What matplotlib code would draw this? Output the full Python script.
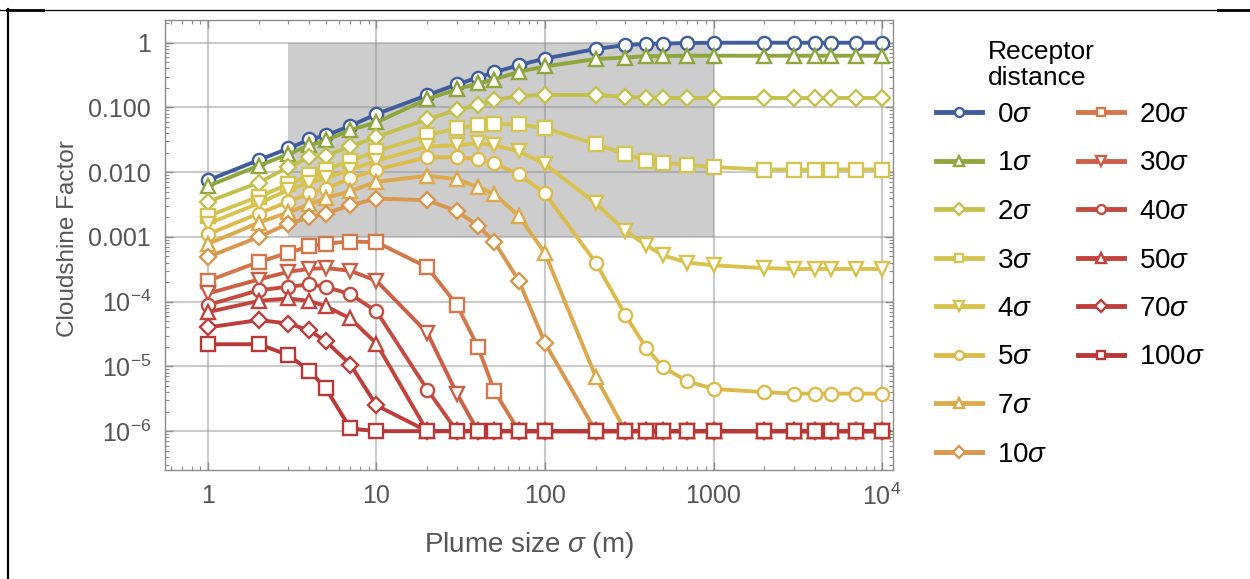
import matplotlib
matplotlib.use("Agg")
import matplotlib.pyplot as plt
from matplotlib.lines import Line2D
from matplotlib.patches import Rectangle
from matplotlib.ticker import FixedLocator, LogLocator, NullFormatter, FixedFormatter

plt.rcParams['font.family'] = ['Liberation Sans', 'DejaVu Sans']
plt.rcParams['mathtext.fontset'] = 'custom'
plt.rcParams['mathtext.rm'] = 'Liberation Sans'
plt.rcParams['mathtext.it'] = 'Liberation Sans:italic'

# ---------------- data ----------------
plume_size = [1, 2, 3, 4, 5, 7, 10, 20, 30, 40, 50, 70, 100, 200, 300, 400, 500, 700,
              1000, 2000, 3000, 4000, 5000, 7000, 10000]

cf_0 = [0.0075, 0.0154, 0.0233, 0.032, 0.037, 0.052, 0.079, 0.155, 0.227, 0.29, 0.35, 0.45,
        0.57, 0.80, 0.92, 0.96, 0.97, 0.99, 1.0, 1.0, 1.0, 1.0, 1.0, 1.0, 1.0]
cf_1 = [0.0061, 0.0126, 0.019, 0.026, 0.031, 0.045, 0.059, 0.135, 0.19, 0.236, 0.27, 0.356,
        0.43, 0.56, 0.59, 0.62, 0.62, 0.63, 0.63, 0.63, 0.63, 0.63, 0.63, 0.63, 0.63]
cf_2 = [0.0035, 0.0069, 0.012, 0.017, 0.018, 0.025, 0.035, 0.066, 0.091, 0.109, 0.13, 0.150,
        0.156, 0.156, 0.146, 0.142, 0.14, 0.14, 0.14, 0.14, 0.14, 0.14, 0.14, 0.14, 0.14]
cf_3 = [0.0021, 0.0042, 0.0065, 0.009, 0.011, 0.015, 0.021, 0.037, 0.048, 0.053, 0.055, 0.055,
        0.048, 0.027, 0.019, 0.015, 0.014, 0.013, 0.012, 0.011, 0.011, 0.011, 0.011, 0.011, 0.011]
cf_4 = [0.0016, 0.0033, 0.0053, 0.0069, 0.008, 0.011, 0.015, 0.025, 0.026, 0.028, 0.026, 0.021,
        0.0133, 0.0033, 0.00124, 7.4e-4, 5.2e-4, 4.0e-4, 3.65e-4, 3.3e-4, 3.2e-4, 3.2e-4,
        3.2e-4, 3.2e-4, 3.2e-4]
cf_5 = [0.0011, 0.0023, 0.0035, 0.0047, 0.0056, 0.008, 0.011, 0.017, 0.017, 0.016, 0.0137,
        0.0093, 0.0047, 4.0e-4, 6.2e-5, 1.9e-5, 9.8e-6, 5.9e-6, 4.5e-6, 4.0e-6, 3.8e-6,
        3.8e-6, 3.8e-6, 3.8e-6, 3.8e-6]
cf_7 = [7.8e-4, 0.00166, 0.0024, 0.0032, 0.004, 0.0051, 0.0071, 0.0088, 0.0078, 0.0059,
        0.0046, 0.0021, 5.6e-4, 6.9e-6, 1e-6, 1e-6, 1e-6, 1e-6, 1e-6, 1e-6, 1e-6, 1e-6,
        1e-6, 1e-6, 1e-6]
cf_10 = [4.9e-4, 0.001, 0.0016, 0.002, 0.0023, 0.0031, 0.0039, 0.0037, 0.0025, 0.0015,
         8.4e-4, 2.1e-4, 2.3e-5, 1e-6, 1e-6, 1e-6, 1e-6, 1e-6, 1e-6, 1e-6, 1e-6, 1e-6,
         1e-6, 1e-6, 1e-6]
cf_20 = [2.1e-4, 4.1e-4, 5.7e-4, 7.2e-4, 7.9e-4, 8.5e-4, 8.3e-4, 3.4e-4, 8.9e-5, 2.0e-5,
         4.2e-6, 1e-6, 1e-6, 1e-6, 1e-6, 1e-6, 1e-6, 1e-6, 1e-6, 1e-6, 1e-6, 1e-6, 1e-6,
         1e-6, 1e-6]
cf_30 = [1.34e-4, 2.2e-4, 2.9e-4, 3.2e-4, 3.3e-4, 3.0e-4, 2.1e-4, 3.3e-5, 3.8e-6, 1e-6,
         1e-6, 1e-6, 1e-6, 1e-6, 1e-6, 1e-6, 1e-6, 1e-6, 1e-6, 1e-6, 1e-6, 1e-6, 1e-6,
         1e-6, 1e-6]
cf_40 = [8.9e-5, 1.5e-4, 1.7e-4, 1.85e-4, 1.7e-4, 1.3e-4, 7.1e-5, 4.4e-6, 1e-6, 1e-6,
         1e-6, 1e-6, 1e-6, 1e-6, 1e-6, 1e-6, 1e-6, 1e-6, 1e-6, 1e-6, 1e-6, 1e-6, 1e-6,
         1e-6, 1e-6]
cf_50 = [6.9e-5, 1.03e-4, 1.12e-4, 1.03e-4, 8.5e-5, 5.5e-5, 2.25e-5, 1e-6, 1e-6, 1e-6,
         1e-6, 1e-6, 1e-6, 1e-6, 1e-6, 1e-6, 1e-6, 1e-6, 1e-6, 1e-6, 1e-6, 1e-6, 1e-6,
         1e-6, 1e-6]
cf_70 = [4.0e-5, 5.2e-5, 4.6e-5, 3.6e-5, 2.45e-5, 1.07e-5, 2.5e-6, 1e-6, 1e-6, 1e-6,
         1e-6, 1e-6, 1e-6, 1e-6, 1e-6, 1e-6, 1e-6, 1e-6, 1e-6, 1e-6, 1e-6, 1e-6, 1e-6,
         1e-6, 1e-6]
cf_100 = [2.2e-5, 2.2e-5, 1.5e-5, 8.5e-6, 4.6e-6, 1.1e-6, 1e-6, 1e-6, 1e-6, 1e-6,
          1e-6, 1e-6, 1e-6, 1e-6, 1e-6, 1e-6, 1e-6, 1e-6, 1e-6, 1e-6, 1e-6, 1e-6, 1e-6,
          1e-6, 1e-6]

series_labels = [r'0$\sigma$', r'1$\sigma$', r'2$\sigma$', r'3$\sigma$', r'4$\sigma$',
                 r'5$\sigma$', r'7$\sigma$', r'10$\sigma$', r'20$\sigma$', r'30$\sigma$',
                 r'40$\sigma$', r'50$\sigma$', r'70$\sigma$', r'100$\sigma$']
series_values = [cf_0, cf_1, cf_2, cf_3, cf_4, cf_5, cf_7, cf_10, cf_20, cf_30,
                 cf_40, cf_50, cf_70, cf_100]
series_colors = ['#3f5c9c', '#8ea63c', '#c3c14b', '#d2c450', '#d8c24b', '#ddbb4a',
                 '#dda94a', '#d9964d', '#d3764a', '#cc5e45', '#c54a3f', '#c2433c',
                 '#be3d3a', '#ba3737']
series_markers = ['o', '^', 'D', 's', 'v', 'o', '^', 'D', 's', 'v', 'o', '^', 'D', 's']

x_ticks = [1, 10, 100, 1000, 10000]
x_ticklabels = ['1', '10', '100', '1000', r'$\mathregular{10^{4}}$']
y_ticks = [1, 0.1, 0.01, 0.001, 1e-4, 1e-5, 1e-6]
y_ticklabels = ['1', '0.100', '0.010', '0.001', r'$\mathregular{10^{-4}}$',
                r'$\mathregular{10^{-5}}$', r'$\mathregular{10^{-6}}$']
region_x = [3, 1000]
region_y = [0.001, 1]

# ---------------- figure ----------------
W, H = 1250, 579
fig = plt.figure(figsize=(W / 100, H / 100), dpi=100)
ax = fig.add_axes([165 / W, 1 - 470 / H, (893 - 165) / W, (470 - 20) / H])
ax.set_xscale('log')
ax.set_yscale('log')
ax.set_xlim(10 ** -0.255, 10 ** 4.065)
ax.set_ylim(10 ** -6.60, 10 ** 0.351)

ax.add_patch(Rectangle((region_x[0], region_y[0]), region_x[1] - region_x[0],
                       region_y[1] - region_y[0], facecolor='#cdcdcd',
                       edgecolor='none', zorder=0.5))

handles = []
for vals, lab, col, mk in zip(series_values, series_labels, series_colors, series_markers):
    ms = 9.5 if mk in ('o', 's') else (8.3 if mk == 'D' else 10.5)
    h, = ax.plot(plume_size, vals, color=col, lw=2.8, marker=mk, markersize=ms,
                 markerfacecolor='white', markeredgecolor=col, markeredgewidth=1.7,
                 label=lab, zorder=3)
    handles.append(h)

ax.xaxis.set_major_locator(FixedLocator(x_ticks))
ax.xaxis.set_major_formatter(FixedFormatter(x_ticklabels))
ax.yaxis.set_major_locator(FixedLocator(y_ticks))
ax.yaxis.set_major_formatter(FixedFormatter(y_ticklabels))
ax.xaxis.set_minor_locator(LogLocator(base=10, subs=range(2, 10), numticks=20))
ax.yaxis.set_minor_locator(LogLocator(base=10, subs=range(2, 10), numticks=20))
ax.xaxis.set_minor_formatter(NullFormatter())
ax.yaxis.set_minor_formatter(NullFormatter())

ax.grid(True, which='major', color='#8a8a8a', alpha=0.45, lw=1.5, zorder=1)
ax.set_axisbelow(False)
for sp in ax.spines.values():
    sp.set_color('#8c8c8c')
    sp.set_linewidth(1.0)
    sp.set_zorder(4)
ax.tick_params(which='both', direction='in', top=True, right=True, color='#8c8c8c',
               labelcolor='#555555', labelsize=18)
ax.tick_params(which='major', length=6, width=1)
ax.tick_params(which='minor', length=3, width=0.8)
ax.tick_params(axis='x', pad=10)
ax.tick_params(axis='y', pad=10)
for gl in ax.get_xgridlines() + ax.get_ygridlines():
    gl.set_zorder(1)

ax.set_xlabel(r'Plume size $\sigma$ (m)', fontsize=20, color='#555555', labelpad=14)
ax.set_ylabel('Cloudshine Factor', fontsize=17.5, color='#555555')
ax.yaxis.set_label_coords(-0.118, 0.515)

# legend: 8 + 6 layout, two blank slots at the end
blank = Line2D([], [], linestyle='none', marker=None)
leg_handles = handles + [blank, blank]
leg_labels = series_labels + ['', '']
leg = fig.legend(leg_handles, leg_labels, ncol=2, loc='upper left',
                 bbox_to_anchor=(936 / W, 1 - 102 / H), frameon=False, fontsize=20,
                 handlelength=1.65, handletextpad=0.55, columnspacing=1.1,
                 labelspacing=0.81, markerscale=0.68, borderpad=0, borderaxespad=0)
for lh in leg.get_lines():
    lh.set_linewidth(3.5)

fig.text(988 / W, 1 - 65 / H, 'Receptor\ndistance', fontsize=19, color='black',
         ha='left', va='center', linespacing=1.12)

# outer border fragments
fig.add_artist(Line2D([0, 1], [1 - 9.5 / H, 1 - 9.5 / H], transform=fig.transFigure,
                      color='black', lw=0.9))
fig.add_artist(Line2D([7 / W, 43 / W], [1 - 10 / H, 1 - 10 / H], transform=fig.transFigure,
                      color='black', lw=2))
fig.add_artist(Line2D([1218 / W, 1], [1 - 10 / H, 1 - 10 / H], transform=fig.transFigure,
                      color='black', lw=2))
fig.add_artist(Line2D([8 / W, 8 / W], [1 - 9 / H, 0], transform=fig.transFigure,
                      color='black', lw=1.6))

fig.savefig('out.png', dpi=100)
